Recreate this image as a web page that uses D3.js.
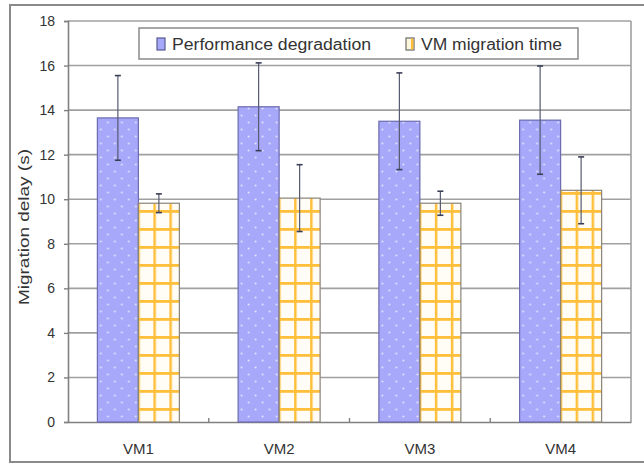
<!DOCTYPE html>
<html><head><meta charset="utf-8">
<script src="https://cdn.jsdelivr.net/npm/d3@7"></script>
<style>body{margin:0;background:#fff}svg{display:block}text{font-family:"Liberation Sans",Arial,sans-serif}</style>
</head><body><svg id="c" width="644" height="469"></svg>
<script>
const categories = ["VM1","VM2","VM3","VM4"];
const seriesNames = ["Performance degradation","VM migration time"];
const perfValues = [13.65, 14.15, 13.5, 13.55];
const perfErrors = [1.9, 1.97, 2.17, 2.43];
const migrValues = [9.82, 10.05, 9.82, 10.4];
const migrErrors = [0.42, 1.5, 0.54, 1.5];
const yTicks = [0,2,4,6,8,10,12,14,16,18];
const yTitle = "Migration delay (s)";

const svg = d3.select("#c");
const M = {l:68, r:631, t:21, b:422};
const x = d3.scaleBand().domain(categories).range([M.l, M.r]);
const sub = d3.scaleBand().domain([0,1]).range([0, 82]);
const y = d3.scaleLinear().domain([0,18]).range([M.b, M.t]);

const defs = svg.append("defs");
const pd = defs.append("pattern").attr("id","dots").attr("patternUnits","userSpaceOnUse").attr("width",14).attr("height",14);
pd.append("rect").attr("width",14).attr("height",14).attr("fill","#a8a8fb");
pd.append("circle").attr("cx",3.5).attr("cy",3.5).attr("r",1).attr("fill","#e4e4ff");
pd.append("circle").attr("cx",10.5).attr("cy",10.5).attr("r",1).attr("fill","#e4e4ff");
const pg = defs.append("pattern").attr("id","grid").attr("patternUnits","userSpaceOnUse").attr("width",16).attr("height",18).attr("x",2).attr("y",4);
pg.append("rect").attr("width",16).attr("height",18).attr("fill","#fffdf6");
pg.append("rect").attr("x",6).attr("y",0).attr("width",2.5).attr("height",18).attr("fill","#ffbf3a");
pg.append("rect").attr("x",0).attr("y",8).attr("width",16).attr("height",2.8).attr("fill","#ffbf3a");

// outer frame
svg.append("rect").attr("x",10).attr("y",5).attr("width",640).attr("height",457)
  .attr("fill","none").attr("stroke","#8a8a8a").attr("stroke-width",2);

// grid lines
svg.append("g").selectAll("line").data(yTicks.filter(d=>d>0)).join("line")
  .attr("x1",M.l).attr("x2",M.r).attr("y1",d=>y(d)).attr("y2",d=>y(d))
  .attr("stroke","#a0a0a0").attr("stroke-width",1.6);
svg.append("line").attr("x1",M.r).attr("x2",M.r).attr("y1",M.t).attr("y2",M.b).attr("stroke","#a0a0a0").attr("stroke-width",1.6);

// y axis
const ya = svg.append("g").attr("transform",`translate(${M.l},0)`)
  .call(d3.axisLeft(y).tickValues(yTicks).tickSize(4).tickPadding(9).tickFormat(d3.format("d")));
ya.select(".domain").attr("stroke","#808080").attr("stroke-width",1.6);
ya.selectAll(".tick line").attr("stroke","#808080").attr("stroke-width",1.4);
ya.selectAll("text").attr("font-size",14).attr("fill","#333");

// x axis
const xa = svg.append("g").attr("transform",`translate(0,${M.b})`)
  .call(d3.axisBottom(x).tickSize(0).tickPadding(21));
xa.select(".domain").attr("stroke","#808080").attr("stroke-width",1.6);
xa.selectAll("text").attr("font-size",15).attr("fill","#333");
svg.append("g").selectAll("line").data(categories.slice(1)).join("line")
  .attr("x1",d=>x(d)).attr("x2",d=>x(d)).attr("y1",M.b-4).attr("y2",M.b)
  .attr("stroke","#808080").attr("stroke-width",1.4);

// bars
const groups = categories.map((c,i)=>({c, vals:[perfValues[i], migrValues[i]], errs:[perfErrors[i], migrErrors[i]]}));
const g0 = x.bandwidth()/2 - 41;
const gs = svg.append("g").selectAll("g").data(groups).join("g")
  .attr("transform",d=>`translate(${x(d.c)+g0},0)`);
gs.selectAll("rect").data(d=>d.vals.map((v,k)=>({v,k}))).join("rect")
  .attr("x",d=>sub(d.k)).attr("width",sub.bandwidth())
  .attr("y",d=>y(d.v)).attr("height",d=>y(0)-y(d.v))
  .attr("fill",d=>d.k===0?"url(#dots)":"url(#grid)")
  .attr("stroke",d=>d.k===0?"#6b6bb0":"#8a8478").attr("stroke-width",1.2);
// error bars
const eb = gs.selectAll("g.eb").data(d=>d.vals.map((v,k)=>({v,e:d.errs[k],k}))).join("g").attr("class","eb");
eb.append("line").attr("x1",d=>sub(d.k)+sub.bandwidth()/2).attr("x2",d=>sub(d.k)+sub.bandwidth()/2)
  .attr("y1",d=>y(d.v+d.e)).attr("y2",d=>y(d.v-d.e)).attr("stroke","#555a70").attr("stroke-width",1.2);
[1,-1].forEach(s=>{
  eb.append("line").attr("x1",d=>sub(d.k)+sub.bandwidth()/2-3).attr("x2",d=>sub(d.k)+sub.bandwidth()/2+3)
    .attr("y1",d=>y(d.v+s*d.e)).attr("y2",d=>y(d.v+s*d.e)).attr("stroke","#3a3f58").attr("stroke-width",1.6);
});

// y title
svg.append("text").attr("transform","translate(29,227) rotate(-90)").attr("text-anchor","middle")
  .attr("font-size",15).attr("fill","#333").attr("textLength",156).attr("lengthAdjust","spacingAndGlyphs").text(yTitle);

// legend
const lg = svg.append("g");
lg.append("rect").attr("x",139).attr("y",28).attr("width",439).attr("height",31)
  .attr("fill","#fff").attr("stroke","#8a8a8a").attr("stroke-width",1.5);
const lx = [157, 406];
const lw = [199, 141];
seriesNames.forEach((n,k)=>{
  lg.append("rect").attr("x",lx[k]).attr("y",38).attr("width",8).attr("height",12)
    .attr("fill",k===0?"#a8a8fb":"#fff6dc").attr("stroke",k===0?"#555a90":"#6a6a6a").attr("stroke-width",1.2);
  if(k===1) lg.append("rect").attr("x",lx[k]+5).attr("y",38.6).attr("width",2.4).attr("height",10.8).attr("fill","#ffbf3a");
  lg.append("text").attr("x",lx[k]+15).attr("y",50).attr("font-size",16).attr("fill","#333")
    .attr("textLength",lw[k]).attr("lengthAdjust","spacingAndGlyphs").text(n);
});
</script></body></html>
